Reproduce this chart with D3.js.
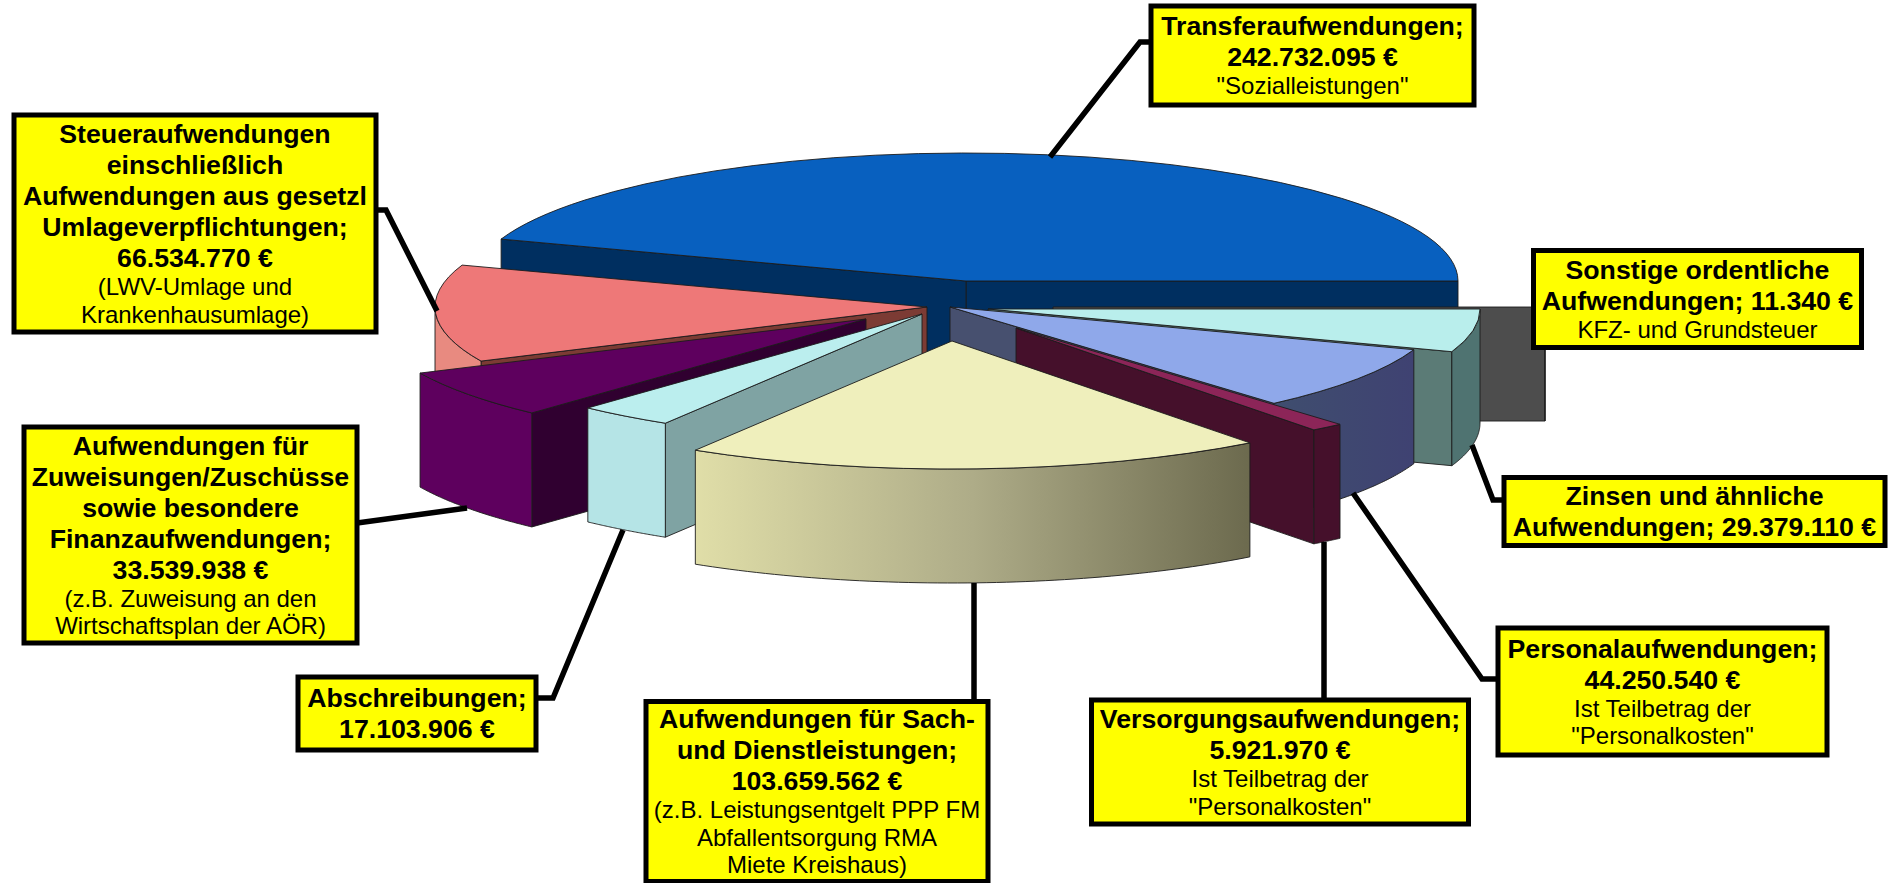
<!DOCTYPE html>
<html>
<head>
<meta charset="utf-8">
<script src="https://cdnjs.cloudflare.com/ajax/libs/d3/7.8.5/d3.min.js"></script>
<style>
  html,body{margin:0;padding:0;background:#fff;overflow:hidden;}
  text{font-family:"Liberation Sans",Arial,sans-serif;fill:#000;}
</style>
</head>
<body>
<svg width="1892" height="883"></svg>
<script>
const categories = ['Transfer','Steuer','Zuweisungen','Abschreibungen','SachDienst','Versorgung','Personal','Zinsen','Sonstige'];
const values = [242732095,66534770,33539938,17103906,103659562,5921970,44250540,29379110,11340];
const boldLines = [
  ['Transferaufwendungen;','{v}'],
  ['Steueraufwendungen','einschließlich','Aufwendungen aus gesetzl','Umlageverpflichtungen;','{v}'],
  ['Aufwendungen für','Zuweisungen/Zuschüsse','sowie besondere','Finanzaufwendungen;','{v}'],
  ['Abschreibungen;','{v}'],
  ['Aufwendungen für Sach-','und Dienstleistungen;','{v}'],
  ['Versorgungsaufwendungen;','{v}'],
  ['Personalaufwendungen;','{v}'],
  ['Zinsen und ähnliche','Aufwendungen; {v}'],
  ['Sonstige ordentliche','Aufwendungen; {v}']
];
const noteLines = [
  ['"Sozialleistungen"'],
  ['(LWV-Umlage und','Krankenhausumlage)'],
  ['(z.B. Zuweisung an den','Wirtschaftsplan der AÖR)'],
  [],
  ['(z.B. Leistungsentgelt PPP FM','Abfallentsorgung RMA','Miete Kreishaus)'],
  ['Ist Teilbetrag der','"Personalkosten"'],
  ['Ist Teilbetrag der','"Personalkosten"'],
  [],
  ['KFZ- und Grundsteuer']
];

// layout: exploded slice centres, callout boxes, leader lines
const centres = [[966,281],[927,307],[866,319],[922,314],[952,341],[1016,328],[950,307],[988,309],[1053,307]];
const boxes = [[1151,6,323,99],[14,115,362,217],[24,427,333,216],[298,677,238,73],[646,701.5,342,180],[1091.5,700,377,124],[1498,628,329,127],[1504,477.5,381,68],[1533.5,250.5,328,97]];
const leaders = [
  [[1152,42],[1140,42],[1050,157]],
  [[376,210],[386,210],[437,311]],
  [[357,523],[467,508]],
  [[537,698],[553,698],[623,530]],
  [[974,701],[974,583]],
  [[1324,700],[1324,542]],
  [[1498,679],[1482,679],[1353,493]],
  [[1503,500],[1493,500],[1472,445]]
];
const rx = 492, ry = 128, depth = 114;
const drawOrder = [0,8,1,2,3,7,6,5,4];

// colours per slice: top, rim, cut face
const topColors = ['#0860bf','#ee7878','#5e005e','#bbeeee','#efefbc','#8c2558','url(#personalTop)','#b9eeec','#ffffff'];
const rimColors = ['#002f60','#e88a80','#5e005e','#b5e4e6','url(#sachRim)','#45102b','url(#personalRim)','#4f7371','#4d4d4d'];
const cutColors = ['#002f60','#7c3b34','#300030','#7fa3a3','#a0a080','#45102b','#47506f','#5b7b76','#4d4d4d'];

const svg = d3.select('svg');
const defs = svg.append('defs');

const addGradient = (id, x1, x2, stops) => {
  const g = defs.append('linearGradient').attr('id', id)
    .attr('gradientUnits','userSpaceOnUse')
    .attr('x1',x1).attr('x2',x2).attr('y1',0).attr('y2',0);
  stops.forEach(s => g.append('stop').attr('offset',s[0]).attr('stop-color',s[1]));
};
addGradient('sachRim',695,1250,[[0,'#e0dea8'],[0.5,'#aeac88'],[1,'#6c6a4e']]);
addGradient('personalRim',1260,1412,[[0,'#3f4f6e'],[1,'#3f4272']]);
addGradient('personalTop',1050,1412,[[0,'#8fa8ea'],[1,'#8e92e6']]);

// pie runs counter-clockwise starting from the east
const pie = d3.pie().sort(null).startAngle(Math.PI/2).endAngle(Math.PI/2 - 2*Math.PI);
const arcs = pie(values);
const arcTop = d3.arc().innerRadius(0).outerRadius(rx);

const px = (c,a) => c[0] + rx*Math.sin(a);
const py = (c,a) => c[1] - ry*Math.cos(a);
const line = d3.line();
const edgeStyle = sel => sel.attr('stroke','#1c1c1c').attr('stroke-width',0.9).attr('stroke-linejoin','round');

const pieGroup = svg.append('g');

drawOrder.forEach(i => {
  const d = arcs[i], c = centres[i];
  const g = pieGroup.append('g').attr('class','slice '+categories[i]);

  // cut faces, only those turned to the viewer
  [d.startAngle, d.endAngle].forEach((a,k) => {
    const visible = k===0 ? Math.sin(a) > 0 : Math.sin(a) < 0;
    if(!visible) return;
    g.append('path')
      .attr('d', line([[c[0],c[1]],[px(c,a),py(c,a)],[px(c,a),py(c,a)+depth],[c[0],c[1]+depth]])+'Z')
      .attr('fill',cutColors[i]).call(edgeStyle);
  });

  // outer rim on the front half
  const a0 = Math.min(d.startAngle, -Math.PI/2);
  const a1 = Math.max(d.endAngle, -3*Math.PI/2);
  if(a0 > a1){
    const steps = d3.range(0,61).map(t => a0 + (a1-a0)*t/60);
    const rim = d3.area().x(a=>px(c,a)).y0(a=>py(c,a)).y1(a=>py(c,a)+depth);
    g.append('path').attr('d',rim(steps)).attr('fill',rimColors[i]).call(edgeStyle);
  }

  // top, d3.arc squashed into the ellipse
  if(d.startAngle - d.endAngle > 0.01){
    g.append('path')
      .attr('transform',`translate(${c[0]},${c[1]}) scale(1,${ry/rx})`)
      .attr('d',arcTop(d))
      .attr('fill',topColors[i])
      .attr('vector-effect','non-scaling-stroke')
      .call(edgeStyle);
  }
});

// leader lines
svg.append('g').selectAll('path').data(leaders).enter().append('path')
  .attr('d',d=>line(d))
  .attr('fill','none').attr('stroke','#000').attr('stroke-width',5.5);

// callouts
const fmt = d3.formatLocale({decimal:',',thousands:'.',grouping:[3],currency:['','']}).format(',d');
const boldSize = 26.7, noteSize = 24, boldStep = 31, noteStep = 27.5;

boxes.forEach((b,i) => {
  const g = svg.append('g');
  g.append('rect').attr('x',b[0]).attr('y',b[1]).attr('width',b[2]).attr('height',b[3])
    .attr('fill','#ffff00').attr('stroke','#000').attr('stroke-width',5);
  const bold = boldLines[i].map(s => s.replace('{v}', fmt(values[i])+' €'));
  const notes = noteLines[i];
  const total = bold.length*boldStep + notes.length*noteStep;
  let y = b[1] + (b[3]-total)/2;
  const cx = b[0]+b[2]/2;
  bold.forEach(s => {
    y += boldStep;
    g.append('text').attr('x',cx).attr('y',y-6.5).attr('text-anchor','middle')
      .attr('font-size',boldSize).attr('font-weight','700').text(s);
  });
  notes.forEach(s => {
    y += noteStep;
    g.append('text').attr('x',cx).attr('y',y-6).attr('text-anchor','middle')
      .attr('font-size',noteSize).text(s);
  });
});
</script>
</body>
</html>
